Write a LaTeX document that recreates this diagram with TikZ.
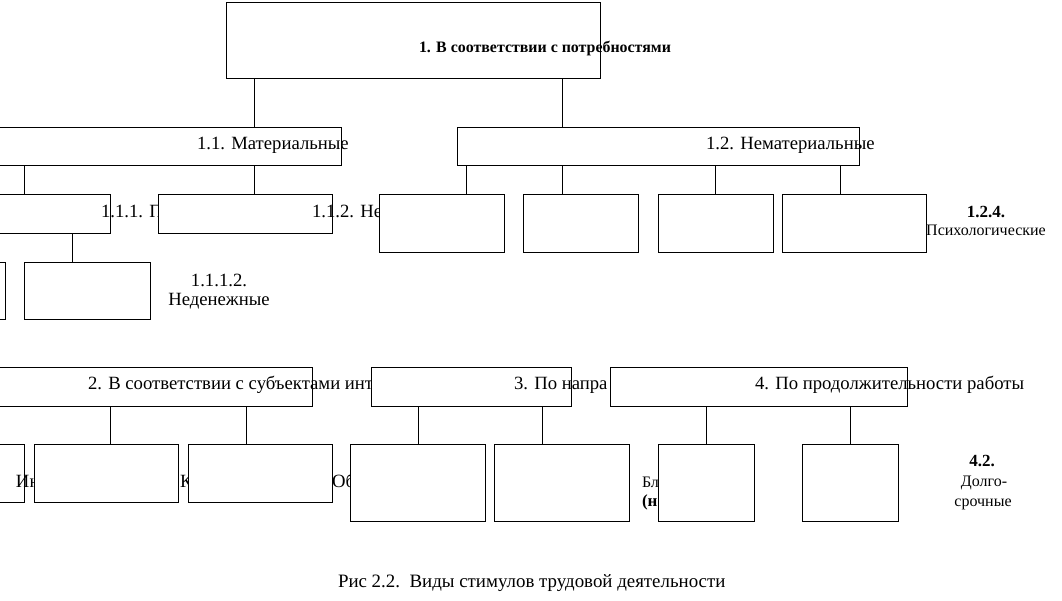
\documentclass[tikz,border=0pt]{standalone}
\usepackage{fontspec}
\setmainfont{Liberation Serif}
\tikzset{
 box/.style={draw=black, fill=white, line width=1pt, inner sep=0pt, outer sep=0pt, anchor=north west},
 lbl/.style={anchor=base west, inner sep=0pt, outer sep=0pt, font=\fontsize{18.7}{20}\selectfont},
 sml/.style={anchor=base, inner sep=0pt, outer sep=0pt, font=\fontsize{16}{18}\selectfont},
 conn/.style={line width=1pt},
}
\begin{document}
\begin{tikzpicture}[x=1pt,y=-1pt]
\clip (0,0) rectangle (1062,600);
\fill[white] (0,0) rectangle (1062,600);
% top
\node[box,minimum width=374pt,minimum height=76pt] (top) at (226,2) {};
\node[lbl,font=\fontsize{15.9}{17}\selectfont\bfseries] (ttop) at (419,52) {1. В соответствии с потребностями};
% level 2
\node[box,minimum width=361pt,minimum height=38pt] (m11) at (-20,127) {};
\node[lbl] (t11) at (197,149) {1.1. Материальные};
\node[box,minimum width=402pt,minimum height=38pt] (m12) at (457,127) {};
\node[lbl] (t12) at (706,149) {1.2. Нематериальные};
% level 3
\node[box,minimum width=130pt,minimum height=39pt] (m111) at (-20,194) {};
\node[lbl] (t111) at (101,217) {1.1.1. П};
\node[box,minimum width=174pt,minimum height=39pt] (m112) at (158,194) {};
\node[lbl] (t112) at (312,217) {1.1.2. Не};
\node[box,minimum width=125pt,minimum height=58pt] (n1) at (379,194) {};
\node[box,minimum width=115pt,minimum height=58pt] (n2) at (523,194) {};
\node[box,minimum width=115pt,minimum height=58pt] (n3) at (658,194) {};
\node[box,minimum width=144pt,minimum height=58pt] (n4) at (782,194) {};
\node[sml,font=\fontsize{17}{19}\selectfont\bfseries] (t124a) at (986,217) {1.2.4.};
\node[sml] (t124b) at (986,235) {Психологические};
% level 4
\node[box,minimum width=25pt,minimum height=57pt] (d1) at (-20,262) {};
\node[box,minimum width=126pt,minimum height=57pt] (d2) at (24,262) {};
\node[lbl,anchor=base] (t1112a) at (219,286) {1.1.1.2.};
\node[lbl,anchor=base] (t1112b) at (219,305) {Неденежные};
% second block
\node[box,minimum width=332pt,minimum height=39pt] (s2) at (-20,367) {};
\node[lbl] (t2) at (88,389) {2. В соответствии с субъектами инт};
\node[box,minimum width=200pt,minimum height=39pt] (s3) at (371,367) {};
\node[lbl] (t3) at (514,389) {3. По напра};
\node[box,minimum width=297pt,minimum height=39pt] (s4) at (610,367) {};
\node[lbl] (t4) at (755,389) {4. По продолжительности работы};
% children
\node[box,minimum width=44pt,minimum height=58pt] (a1) at (-20,444) {};
\node[lbl] (ta1) at (16,487) {Ин};
\node[box,minimum width=144pt,minimum height=58pt] (a2) at (34,444) {};
\node[lbl] (ta2) at (180,487) {К};
\node[box,minimum width=144pt,minimum height=58pt] (a3) at (188,444) {};
\node[lbl] (ta3) at (332,487) {Об};
\node[box,minimum width=135pt,minimum height=77pt] (b1) at (350,444) {};
\node[box,minimum width=135pt,minimum height=77pt] (b2) at (494,444) {};
\node[lbl,font=\fontsize{16}{18}\selectfont] (tb2a) at (642,487) {Бл};
\node[lbl,font=\fontsize{17}{19}\selectfont\bfseries] (tb2b) at (642,506) {(н};
\node[box,minimum width=96pt,minimum height=77pt] (c1) at (658,444) {};
\node[box,minimum width=96pt,minimum height=77pt] (c2) at (802,444) {};
\node[sml,font=\fontsize{17}{19}\selectfont\bfseries] (tc2a) at (982,466) {4.2.};
\node[sml] (tc2b) at (984,486) {Долго-};
\node[sml] (tc2c) at (983,506) {срочные};
% caption
\node[lbl,font=\fontsize{18.9}{20}\selectfont] (cap) at (338,587) {Рис 2.2.\ \ Виды стимулов трудовой деятельности};
% connectors
\coordinate (k24) at (24,0);
\coordinate (k72) at (72,0);
\coordinate (k110) at (110,0);
\coordinate (k246) at (246,0);
\coordinate (k254) at (254,0);
\coordinate (k418) at (418,0);
\coordinate (k466) at (466,0);
\coordinate (k542) at (542,0);
\coordinate (k562) at (562,0);
\coordinate (k706) at (706,0);
\coordinate (k715) at (715,0);
\coordinate (k840) at (840,0);
\coordinate (k850) at (850,0);
\draw[conn] (top.south -| k254) -- (m11.north -| k254);
\draw[conn] (top.south -| k562) -- (m12.north -| k562);
\draw[conn] (m11.south -| k24) -- (m111.north -| k24);
\draw[conn] (m11.south -| k254) -- (m112.north -| k254);
\draw[conn] (m12.south -| k466) -- (n1.north -| k466);
\draw[conn] (m12.south -| k562) -- (n2.north -| k562);
\draw[conn] (m12.south -| k715) -- (n3.north -| k715);
\draw[conn] (m12.south -| k840) -- (n4.north -| k840);
\draw[conn] (m111.south -| k72) -- (d2.north -| k72);
\draw[conn] (s2.south -| k110) -- (a2.north -| k110);
\draw[conn] (s2.south -| k246) -- (a3.north -| k246);
\draw[conn] (s3.south -| k418) -- (b1.north -| k418);
\draw[conn] (s3.south -| k542) -- (b2.north -| k542);
\draw[conn] (s4.south -| k706) -- (c1.north -| k706);
\draw[conn] (s4.south -| k850) -- (c2.north -| k850);
\end{tikzpicture}
\end{document}
